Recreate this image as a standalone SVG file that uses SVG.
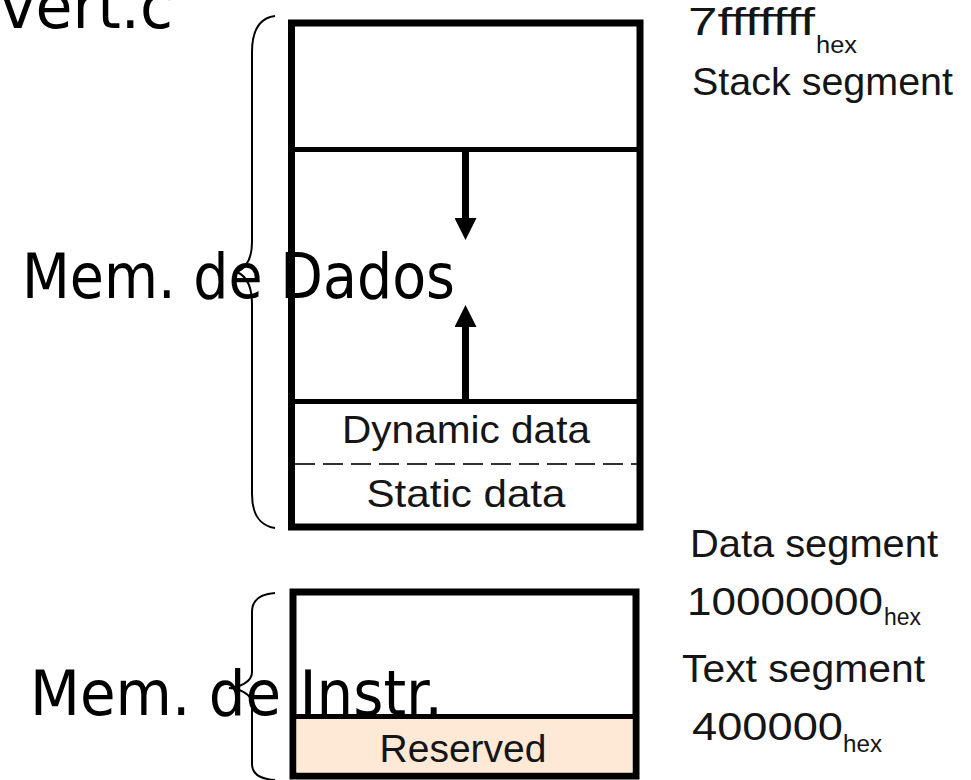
<svg xmlns="http://www.w3.org/2000/svg" width="971" height="780" viewBox="0 0 971 780">
<style>
.frame{fill:#fff;stroke:#000;stroke-width:7}
.div{stroke:#000;stroke-width:5;fill:none}
.brace{fill:none;stroke:#000;stroke-width:2}
.lbl{font-family:"Liberation Sans",Arial,sans-serif;font-size:39px;fill:#151515}
.sub{font-family:"Liberation Sans",Arial,sans-serif;font-size:23px;fill:#151515}
.big{font-family:"DejaVu Sans",Verdana,sans-serif;font-size:62px;fill:#000}
</style>
<defs>
<marker id="ah" viewBox="0 0 22 22" refX="0" refY="11" markerWidth="22" markerHeight="22" markerUnits="userSpaceOnUse" orient="auto">
<path d="M0,0 L22,11 L0,22 Z" fill="#000"/>
</marker>
</defs>
<text class="big" x="0" y="28" textLength="173" lengthAdjust="spacingAndGlyphs">vert.c</text>
<g id="data-memory">
<rect class="frame" x="291.5" y="23" width="348.5" height="504"/>
<line class="div" x1="292" y1="149.5" x2="640" y2="149.5"/>
<line class="div" x1="292" y1="401.5" x2="640" y2="401.5"/>
<line x1="295" y1="464" x2="637" y2="464" stroke="#333" stroke-width="2" stroke-dasharray="20 8"/>
<text class="lbl" x="466" y="443" text-anchor="middle" textLength="248" lengthAdjust="spacingAndGlyphs">Dynamic data</text>
<text class="lbl" x="466" y="507" text-anchor="middle" textLength="199" lengthAdjust="spacingAndGlyphs">Static data</text>
</g>
<g id="connectors">
<line x1="465.5" y1="152" x2="465.5" y2="218" stroke="#000" stroke-width="7" marker-end="url(#ah)"/>
<line x1="465.5" y1="399" x2="465.5" y2="327" stroke="#000" stroke-width="7" marker-end="url(#ah)"/>
</g>
<g id="instr-memory">
<rect class="frame" x="293" y="592" width="343" height="184"/>
<rect x="296.5" y="719" width="336" height="53.5" fill="#fde9d5"/>
<line class="div" x1="293" y1="716.5" x2="636" y2="716.5"/>
<text class="lbl" x="463" y="762" text-anchor="middle" textLength="167" lengthAdjust="spacingAndGlyphs">Reserved</text>
</g>
<g id="brace-dados">
<path class="brace" d="M275,16 C260,18 252,30 252,52 L252,242 C252,260 246,268 237,272 C246,276 252,286 252,304 L252,494 C252,514 260,526 275,528"/>
<text class="big" x="22" y="298" textLength="433" lengthAdjust="spacingAndGlyphs">Mem. de Dados</text>
</g>
<g id="brace-instr">
<path class="brace" d="M275,593 C260,594 252,600 252,612 L252,672 C252,682 240,687 229,688 C240,689 252,694 252,704 L252,764 C252,774 260,779 275,780"/>
<text class="big" x="30" y="715" textLength="413" lengthAdjust="spacingAndGlyphs">Mem. de Instr.</text>
</g>
<g id="labels">
<text class="lbl" x="688" y="35" font-size="31" textLength="127" lengthAdjust="spacingAndGlyphs">7fffffff</text>
<text class="sub" x="816" y="53" textLength="41" lengthAdjust="spacingAndGlyphs">hex</text>
<text class="lbl" x="692" y="95" textLength="261" lengthAdjust="spacingAndGlyphs">Stack segment</text>
<text class="lbl" x="690" y="557" textLength="248" lengthAdjust="spacingAndGlyphs">Data segment</text>
<text class="lbl" x="687" y="615" textLength="196" lengthAdjust="spacingAndGlyphs">10000000</text>
<text class="sub" x="884" y="625" textLength="37" lengthAdjust="spacingAndGlyphs">hex</text>
<text class="lbl" x="682" y="682" textLength="243" lengthAdjust="spacingAndGlyphs">Text segment</text>
<text class="lbl" x="692" y="740" textLength="151" lengthAdjust="spacingAndGlyphs">400000</text>
<text class="sub" x="843" y="752" textLength="39" lengthAdjust="spacingAndGlyphs">hex</text>
</g>
</svg>
